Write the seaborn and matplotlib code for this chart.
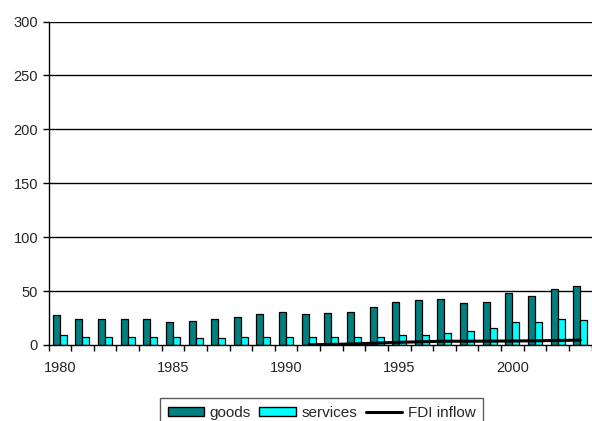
import numpy as np
import pandas as pd
import matplotlib
matplotlib.use("Agg")
import matplotlib.pyplot as plt
import seaborn as sns
from matplotlib.patches import Patch
from matplotlib.lines import Line2D

years = list(range(1980, 2004))
goods = [27.6, 24.5, 24.5, 24.5, 24.5, 20.9, 22.4, 24.5, 26, 29, 31, 29,
         29.7, 31, 35, 40, 41.7, 42.6, 39, 40, 47.8, 45, 51.5, 54.3]
services = [9.2, 7.7, 7.7, 7.7, 7.7, 7.7, 6.1, 6.1, 7.7, 7.7, 7.7, 7.7,
            7.7, 7.7, 7.7, 9.2, 9.2, 10.7, 13.2, 15.6, 20.9, 20.9, 24.5, 23.3]
fdi_years = list(range(1991, 2004))
fdi = [0.2, 0.5, 1.0, 1.8, 2.5, 3.0, 3.5, 3.5, 3.6, 3.7, 3.9, 4.2, 4.5]
series_names = ["goods", "services", "FDI inflow"]
ytick_vals = [0, 50, 100, 150, 200, 250, 300]

sns.set_theme(style="white")
plt.rcParams['font.family'] = ['Liberation Sans', 'DejaVu Sans']

df = pd.DataFrame({
    "year": [str(y) for y in years] * 2,
    "value": goods + services,
    "series": [series_names[0]] * len(years) + [series_names[1]] * len(years),
})

fig = plt.figure(figsize=(5.92, 4.21), dpi=100)
ax = fig.add_axes([48.5 / 592, 1 - 345 / 421, 543 / 592, 323.5 / 421])

for y in ytick_vals[1:]:
    ax.axhline(y, color="black", linewidth=1.0, zorder=0)

colors = ["#008080", "#00FFFF"]
sns.barplot(data=df, x="year", y="value", hue="series", palette=colors,
            edgecolor="black", linewidth=0.9, width=0.62, ax=ax, legend=False,
            saturation=1)

fdi_x = [years.index(y) for y in fdi_years]
sns.lineplot(x=fdi_x, y=fdi, color="black", linewidth=2.2, ax=ax, zorder=5)

ax.set_xlim(-0.5, len(years) - 0.5)
ax.set_ylim(0, 300)
ax.set_yticks(ytick_vals)
ax.set_yticklabels([str(v) for v in ytick_vals], fontsize=10.5)
ax.tick_params(axis="y", which="major", left=True, length=4.5, width=1, color="black", pad=3)

major = [i for i, y in enumerate(years) if y % 5 == 0]
ax.set_xticks(major)
ax.set_xticklabels([str(years[i]) for i in major], fontsize=10.5)
ax.set_xticks(np.arange(-0.5, len(years), 1.0), minor=True)
ax.tick_params(axis="x", which="major", length=0, pad=11.5)
ax.tick_params(axis="x", which="minor", bottom=True, length=4, width=1, color="black")
ax.set_xlabel("")
ax.set_ylabel("")

for s in ["top", "right"]:
    ax.spines[s].set_visible(False)
for s in ["left", "bottom"]:
    ax.spines[s].set_color("black")
    ax.spines[s].set_linewidth(1.0)

handles = [Patch(facecolor=colors[0], edgecolor="black"),
           Patch(facecolor=colors[1], edgecolor="black"),
           Line2D([0], [0], color="black", linewidth=2.2)]
leg = fig.legend(handles, series_names, loc="upper center", ncol=3,
                 bbox_to_anchor=(321.5 / 592, 1 - 398 / 421), frameon=True,
                 fancybox=False, edgecolor="#333333", fontsize=11,
                 handlelength=2.4, handleheight=0.5, handletextpad=0.35,
                 columnspacing=0.55, borderpad=0.5, borderaxespad=0)
leg.get_frame().set_linewidth(1.0)

fig.savefig("out.png", dpi=100)
